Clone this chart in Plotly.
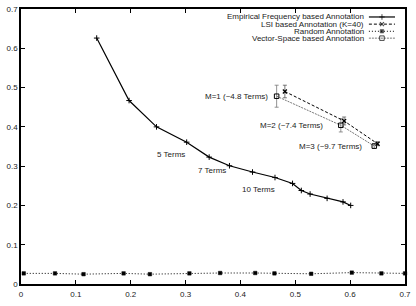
import plotly.graph_objects as go

# ---- data ----
emp_x = [0.138, 0.197, 0.247, 0.302, 0.343, 0.380, 0.422, 0.463, 0.495, 0.511, 0.527, 0.558, 0.587, 0.601]
emp_y = [0.626, 0.467, 0.400, 0.361, 0.323, 0.301, 0.285, 0.271, 0.256, 0.238, 0.229, 0.218, 0.209, 0.200]

lsi_x = [0.481, 0.589, 0.650]
lsi_y = [0.490, 0.415, 0.357]
lsi_err = [0.016, 0.010, 0.005]

vs_x = [0.466, 0.583, 0.644]
vs_y = [0.478, 0.404, 0.351]
vs_err = [0.028, 0.017, 0.006]

rnd_x = [0.005, 0.062, 0.114, 0.187, 0.235, 0.307, 0.363, 0.427, 0.462, 0.529, 0.603, 0.657, 0.700]
rnd_y = [0.027, 0.027, 0.025, 0.027, 0.025, 0.027, 0.028, 0.028, 0.027, 0.026, 0.029, 0.027, 0.027]

series_names = ["Empirical Frequency based Annotation", "LSI based Annotation (K=40)",
                "Random Annotation", "Vector-Space based Annotation"]

term_labels = ["5 Terms", "7 Terms", "10 Terms"]
term_pos = [(0.2735, 0.329), (0.349, 0.288), (0.433, 0.241)]
m_labels = ["M=1 (~4.8 Terms)", "M=2 (~7.4 Terms)", "M=3 (~9.7 Terms)"]
m_pos = [(0.454, 0.477), (0.555, 0.404), (0.625, 0.349)]

FONT = "Liberation Sans, Arial, sans-serif"
TXT = "#222222"

fig = go.Figure()

styles = [
    dict(line=dict(color="black", width=1.2), marker=dict(symbol="cross-thin-open", size=4, line=dict(color="black", width=1))),
    dict(line=dict(color="black", width=1, dash="3px,2px"), marker=dict(symbol="x-thin-open", size=4, line=dict(color="black", width=1.2))),
    dict(line=dict(color="black", width=1, dash="1px,2px"), marker=dict(symbol="square", size=3.5, color="black", line=dict(color="black", width=0.5))),
    dict(line=dict(color="#555555", width=0.8, dash="2px,1px"), marker=dict(symbol="square-open", size=4.5, color="black", line=dict(color="black", width=1))),
]

fig.add_trace(go.Scatter(x=emp_x, y=emp_y, mode="lines+markers", showlegend=False, **styles[0]))
fig.add_trace(go.Scatter(x=rnd_x, y=rnd_y, mode="lines+markers", showlegend=False, cliponaxis=False, **styles[2]))
fig.add_trace(go.Scatter(x=vs_x, y=vs_y, mode="lines+markers", showlegend=False,
                         error_y=dict(type="data", array=vs_err, color="#777777", thickness=0.8, width=2),
                         **styles[3]))
fig.add_trace(go.Scatter(x=lsi_x, y=lsi_y, mode="lines+markers", showlegend=False,
                         error_y=dict(type="data", array=lsi_err, color="#555555", thickness=0.8, width=2),
                         **styles[1]))

# ---- legend (gnuplot style: text right, sample to the right) ----
leg_rows = [0.971, 0.945, 0.919, 0.894]
for name, yy, st in zip(series_names, leg_rows, styles):
    fig.add_annotation(x=0.899, y=yy, xref="paper", yref="paper", text=name, showarrow=False,
                       xanchor="right", yanchor="middle", font=dict(family=FONT, size=8, color=TXT))
    fig.add_trace(go.Scatter(x=[0.906, 0.940, 0.974], y=[yy, yy, yy], xaxis="x2", yaxis="y2",
                             mode="lines+markers", showlegend=False, hoverinfo="skip",
                             line=st["line"],
                             marker=dict(st["marker"], size=[0, st["marker"]["size"], 0])))

for t, (px, py) in zip(term_labels, term_pos):
    fig.add_annotation(x=px, y=py, text=t, showarrow=False, xanchor="center", yanchor="middle",
                       font=dict(family=FONT, size=8, color=TXT))
for t, (px, py) in zip(m_labels, m_pos):
    fig.add_annotation(x=px, y=py, text=t, showarrow=False, xanchor="right", yanchor="middle",
                       font=dict(family=FONT, size=8, color=TXT))

axis_common = dict(range=[0, 0.7], dtick=0.1, tick0=0, showgrid=False, zeroline=False,
                   showline=True, linecolor="black", linewidth=1.5, mirror="ticks",
                   ticks="inside", ticklen=4, tickwidth=1.2, tickcolor="black",
                   tickfont=dict(family=FONT, size=8, color=TXT))

fig.update_layout(
    width=416, height=306,
    margin=dict(l=21, r=8, t=5, b=22),
    paper_bgcolor="white", plot_bgcolor="white",
    xaxis=dict(axis_common, ticklabelstandoff=2),
    yaxis=dict(axis_common),
    xaxis2=dict(range=[0, 1], overlaying="x", visible=False, fixedrange=True),
    yaxis2=dict(range=[0, 1], overlaying="y", visible=False, fixedrange=True),
    showlegend=False,
)

fig.write_html("out.html")
